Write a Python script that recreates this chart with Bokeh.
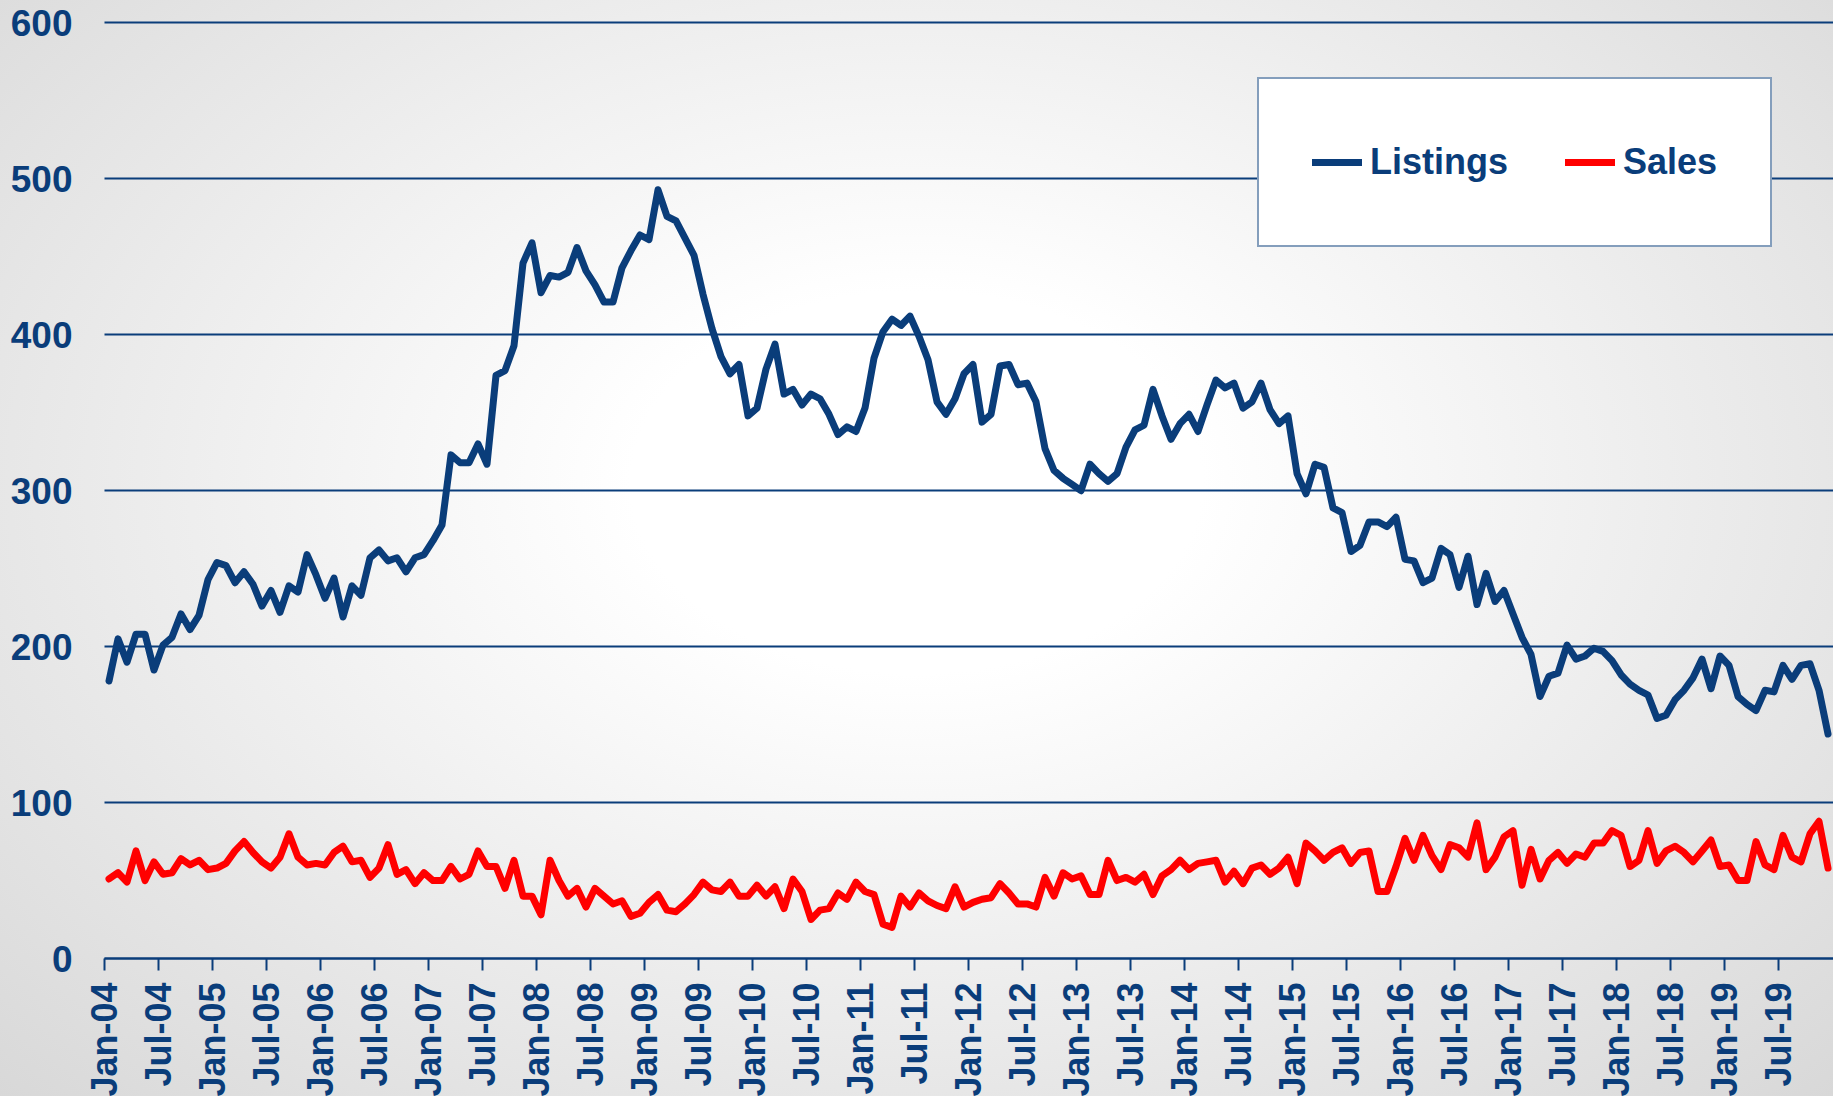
import math
from bokeh.plotting import figure
from bokeh.models import Range1d, FixedTicker, Legend, LegendItem, ColumnDataSource
from bokeh.embed import file_html
from bokeh.resources import INLINE

# ---------------- data ----------------
tick_labels = ["Jan-04", "Jul-04", "Jan-05", "Jul-05", "Jan-06", "Jul-06", "Jan-07", "Jul-07",
               "Jan-08", "Jul-08", "Jan-09", "Jul-09", "Jan-10", "Jul-10", "Jan-11", "Jul-11",
               "Jan-12", "Jul-12", "Jan-13", "Jul-13", "Jan-14", "Jul-14", "Jan-15", "Jul-15",
               "Jan-16", "Jul-16", "Jan-17", "Jul-17", "Jan-18", "Jul-18", "Jan-19", "Jul-19"]

listings = [178, 205, 190, 208, 208, 185, 201, 206, 221, 211, 220, 243,
            254, 252, 241, 248, 240, 226, 236, 222, 239, 235, 259, 246,
            231, 244, 219, 239, 233, 257, 262, 255, 257, 248, 257, 259,
            268, 278, 323, 318, 318, 330, 317, 374, 377, 393, 446, 459,
            427, 438, 437, 440, 456, 441, 432, 421, 421, 443, 454, 464,
            461, 493, 476, 473, 462, 451, 426, 404, 386, 375, 381, 348,
            353, 378, 394, 362, 365, 355, 362, 359, 349, 336, 341, 338,
            353, 385, 402, 410, 406, 412, 399, 384, 357, 349, 359, 375,
            381, 344, 349, 380, 381, 368, 369, 357, 327, 313, 308, 304,
            300, 317, 311, 306, 311, 328, 339, 342, 365, 348, 333, 343,
            349, 338, 355, 371, 366, 369, 353, 357, 369, 352, 343, 348,
            311, 298, 317, 315, 289, 286, 261, 265, 280, 280, 277, 283,
            256, 255, 241, 244, 263, 259, 238, 258, 227, 247, 229, 236,
            221, 206, 195, 168, 181, 183, 201, 192, 194, 199, 197, 191,
            182, 176, 172, 169, 154, 156, 166, 172, 180, 192, 173, 194,
            188, 168, 163, 159, 172, 171, 188, 179, 188, 189, 172, 144]

sales = [51, 55, 49, 69, 50, 62, 54, 55, 64, 60, 63, 57,
         58, 61, 69, 75, 68, 62, 58, 65, 80, 65, 60, 61,
         60, 68, 72, 62, 63, 52, 58, 73, 54, 57, 48, 55,
         50, 50, 59, 51, 54, 69, 59, 59, 45, 63, 40, 40,
         28, 63, 50, 40, 45, 33, 45, 40, 35, 37, 27, 29,
         36, 41, 31, 30, 35, 41, 49, 44, 43, 49, 40, 40,
         47, 40, 46, 32, 51, 43, 25, 31, 32, 42, 38, 49,
         43, 41, 22, 20, 40, 33, 42, 37, 34, 32, 46, 33,
         36, 38, 39, 48, 42, 35, 35, 33, 52, 40, 55, 51,
         53, 41, 41, 63, 50, 52, 49, 54, 41, 53, 57, 63,
         57, 61, 62, 63, 49, 56, 48, 58, 60, 54, 58, 65,
         48, 74, 69, 63, 68, 71, 61, 68, 69, 43, 43, 59,
         77, 63, 79, 66, 57, 73, 71, 65, 87, 57, 65, 78,
         82, 47, 70, 51, 63, 68, 61, 67, 65, 74, 74, 82,
         79, 59, 63, 82, 61, 69, 72, 68, 62, 69, 76, 59,
         60, 50, 50, 75, 60, 57, 79, 65, 62, 80, 88, 58]

month_index = list(range(len(listings)))          # 0 = Jan-04
x_mid = [m + 0.5 for m in month_index]           # points sit mid-month
y_ticks = [0, 100, 200, 300, 400, 500, 600]

# ---------------- styling ----------------
NAVY = "#0A3D7A"
RED = "#FF0000"
FONT = "Liberation Sans"
X_START, X_END = 0, 192.11
FRAME_LEFT = 80

src = ColumnDataSource(dict(x=x_mid, listings=listings, sales=sales))

p = figure(width=1833, height=1096, output_backend="svg", toolbar_location=None,
           x_range=Range1d(-(104 - FRAME_LEFT) / 9.0, X_END), y_range=Range1d(-88.5, 614.4),
           min_border_left=FRAME_LEFT, min_border_right=0, min_border_top=0, min_border_bottom=0)

p.background_fill_color = None
p.border_fill_color = None
p.outline_line_color = None
p.styles = {"background": "radial-gradient(ellipse farthest-corner at 50% 44%, #ffffff 0%, #ffffff 22%, #d8d8d8 100%)"}

# grid
p.xgrid.visible = False
g = p.ygrid[0]
g.grid_line_color = NAVY
g.grid_line_width = 2
g.ticker = FixedTicker(ticks=y_ticks)
g.cross_bounds = (X_START, X_END)

# y axis
yax = p.yaxis[0]
yax.ticker = FixedTicker(ticks=y_ticks)
yax.axis_line_color = None
yax.major_tick_line_color = None
yax.minor_tick_line_color = None
yax.major_tick_out = 0
yax.major_tick_in = 0
yax.major_label_standoff = 8
yax.major_label_text_font = FONT
yax.major_label_text_font_style = "bold"
yax.major_label_text_font_size = "37px"
yax.major_label_text_color = NAVY

# x axis (drawn at value 0, labels hang below inside the frame)
xax = p.xaxis[0]
xax.fixed_location = 0
xax.bounds = (X_START, X_END)
tick_pos = [6 * k for k in range(len(tick_labels))]
xax.ticker = FixedTicker(ticks=tick_pos)
xax.major_label_overrides = {t: lab for t, lab in zip(tick_pos, tick_labels)}
xax.axis_line_color = NAVY
xax.axis_line_width = 2
xax.major_tick_line_color = NAVY
xax.major_tick_line_width = 2
xax.major_tick_out = 12
xax.major_tick_in = 0
xax.minor_tick_line_color = None
xax.major_label_orientation = math.pi / 2
xax.major_label_standoff = 12
xax.major_label_text_font = FONT
xax.major_label_text_font_style = "bold"
xax.major_label_text_font_size = "36px"
xax.major_label_text_color = NAVY

# lines
r_list = p.line("x", "listings", source=src, line_color=NAVY, line_width=7,
                line_join="round", line_cap="round")
r_sales = p.line("x", "sales", source=src, line_color=RED, line_width=7,
                 line_join="round", line_cap="round")

legend = Legend(items=[LegendItem(label="Listings", renderers=[r_list]),
                       LegendItem(label="Sales", renderers=[r_sales])],
                orientation="horizontal", location=(1257 - FRAME_LEFT, 849),
                padding=53, spacing=57, glyph_width=50, glyph_height=60,
                label_height=60, label_standoff=8, margin=0,
                border_line_color=NAVY, border_line_width=2,
                background_fill_color="white", background_fill_alpha=1.0,
                label_text_font=FONT, label_text_font_style="bold",
                label_text_font_size="36px", label_text_color=NAVY)
p.add_layout(legend)

open("out.html", "w").write(file_html(p, INLINE))
